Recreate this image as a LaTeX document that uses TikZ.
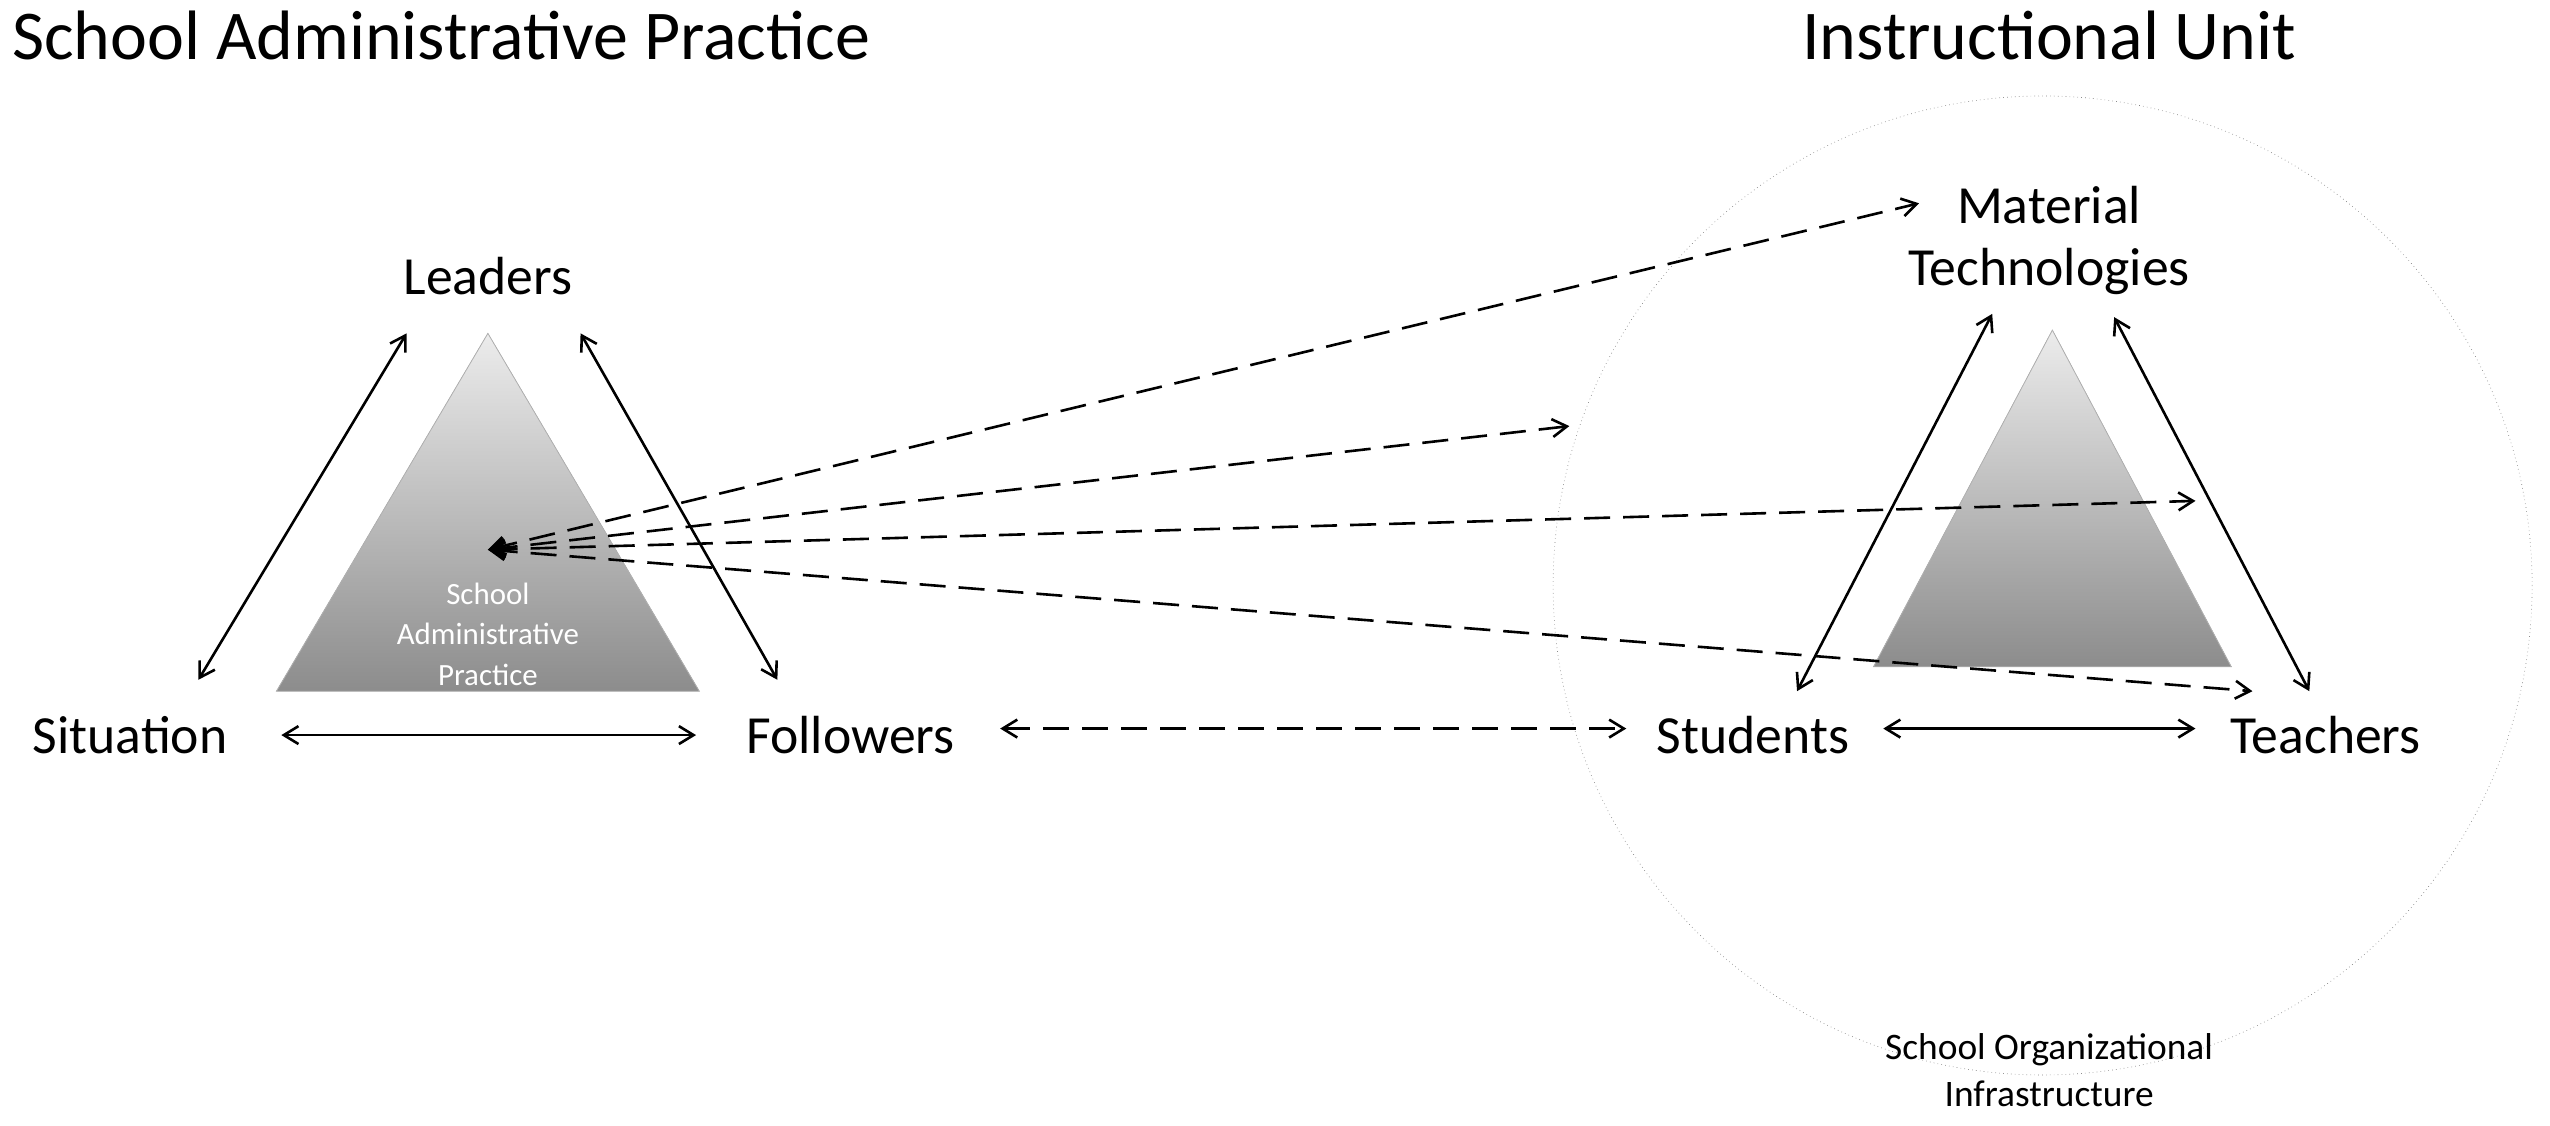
\documentclass[tikz,border=0pt]{standalone}
\usepackage{fontspec}
\setmainfont{Carlito}
\usetikzlibrary{arrows.meta}
\begin{document}
\begin{tikzpicture}[x=1pt,y=-1pt,
  lbl/.style={font=\fontsize{33}{38}\selectfont},
  ttl/.style={font=\fontsize{43}{48}\selectfont},
  arr/.style={{Straight Barb[length=9pt,width=11pt]}-{Straight Barb[length=9pt,width=11pt]},line width=1.6pt},
  darr/.style={arr,dash pattern=on 16pt off 8pt},
  tri/.style={draw=gray!60,line width=0.5pt,top color=gray!15,bottom color=gray!100!black!90}]
\useasboundingbox (0,0) rectangle (1568,692);
\node[ttl,anchor=west] (t1) at (4,22) {School Administrative Practice};
\node[ttl] (t2) at (1260,22) {Instructional Unit};
\draw[dotted,gray] (1256,360) circle[radius=301];
\fill[tri] (300,205) -- (430,425) -- (170,425) -- cycle;
\fill[tri] (1262,203) -- (1372,410) -- (1152,410) -- cycle;
\node[font=\fontsize{19}{25}\selectfont,text=white,align=center] (sap) at (300,390) {School\\Administrative\\Practice};
\node[lbl] (lead) at (300,170) {Leaders};
\node[lbl] (sit) at (80,452) {Situation};
\node[lbl] (fol) at (523,452) {Followers};
\node[lbl,align=center] (mt) at (1260,148) {Material\\Technologies};
\node[lbl] (stu) at (1078,452) {Students};
\node[lbl] (tea) at (1430,452) {Teachers};
\node[font=\fontsize{23}{29}\selectfont,align=center] (soi) at (1260,658) {School Organizational\\Infrastructure};
\coordinate (c) at (300,338);
\coordinate (s1) at (122,418); \coordinate (l1) at (250,205);
\coordinate (l2) at (357,205); \coordinate (f1) at (478,418);
\coordinate (s2) at (173,452); \coordinate (f2) at (428,452);
\coordinate (st1) at (1105,425); \coordinate (m1) at (1225,193);
\coordinate (m2) at (1300,195); \coordinate (te1) at (1420,425);
\coordinate (st2) at (1158,448); \coordinate (te2) at (1350,448);
\coordinate (f3) at (615,448); \coordinate (st3) at (1000,448);
\coordinate (e1) at (1180,125); \coordinate (e2) at (965,262);
\coordinate (e3) at (1350,308); \coordinate (e4) at (1385,425);
\draw[arr] (s1) -- (l1);
\draw[arr] (l2) -- (f1);
\draw[arr] (s2) -- (f2);
\draw[arr] (st1) -- (m1);
\draw[arr] (m2) -- (te1);
\draw[arr] (st2) -- (te2);
\draw[darr] (f3) -- (st3);
\draw[darr] (c) -- (e1);
\draw[darr] (c) -- (e2);
\draw[darr] (c) -- (e3);
\draw[darr] (c) -- (e4);
\end{tikzpicture}
\end{document}
